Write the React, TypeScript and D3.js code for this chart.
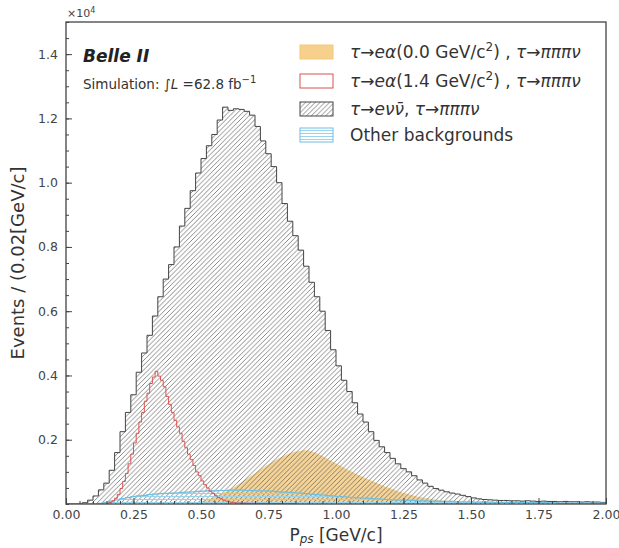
import React, { useEffect, useRef } from 'react';
import * as d3 from 'd3';

// histogram contents, in units of 1e4 events per bin
const binWidth = 0.02;
const fineBinWidth = 0.01;

// tau -> e nu nubar, tau -> 3pi nu  (bins 0.00 .. 2.00, width 0.02)
const bkgNuNu = [
  0, 0, 0, 0.004, 0.012, 0.025, 0.044, 0.065, 0.105, 0.16,
  0.225, 0.285, 0.34, 0.41, 0.47, 0.525, 0.585, 0.645, 0.70, 0.745,
  0.80, 0.865, 0.92, 0.975, 1.03, 1.075, 1.115, 1.15, 1.195, 1.235,
  1.225, 1.23, 1.228, 1.222, 1.21, 1.175, 1.13, 1.09, 1.05, 1.0,
  0.935, 0.88, 0.835, 0.79, 0.74, 0.69, 0.645, 0.6, 0.54, 0.48,
  0.43, 0.385, 0.35, 0.315, 0.28, 0.255, 0.225, 0.198, 0.178, 0.16,
  0.142, 0.125, 0.11, 0.1, 0.088, 0.075, 0.065, 0.055, 0.048, 0.043,
  0.038, 0.034, 0.031, 0.027, 0.023, 0.019, 0.016, 0.014, 0.013, 0.012,
  0.011, 0.011, 0.010, 0.010, 0.009, 0.010, 0.009, 0.008, 0.009, 0.008,
  0.008, 0.007, 0.008, 0.007, 0.007, 0.006, 0.007, 0.006, 0.006, 0.005,
];

// other backgrounds (bins 0.00 .. 2.00, width 0.02)
const otherBkg = [
  0, 0, 0, 0, 0, 0, 0.002, 0.005, 0.009, 0.013,
  0.017, 0.02, 0.023, 0.025, 0.027, 0.029, 0.031, 0.032, 0.033, 0.034,
  0.035, 0.036, 0.037, 0.038, 0.039, 0.04, 0.041, 0.041, 0.042, 0.042,
  0.043, 0.043, 0.043, 0.042, 0.042, 0.041, 0.041, 0.04, 0.039, 0.038,
  0.037, 0.036, 0.035, 0.034, 0.032, 0.031, 0.029, 0.028, 0.026, 0.025,
  0.023, 0.022, 0.021, 0.02, 0.019, 0.018, 0.017, 0.016, 0.015, 0.014,
  0.013, 0.012, 0.012, 0.011, 0.011, 0.01, 0.01, 0.009, 0.009, 0.008,
  0.008, 0.008, 0.007, 0.007, 0.007, 0.006, 0.006, 0.006, 0.006, 0.005,
  0.005, 0.005, 0.005, 0.005, 0.004, 0.004, 0.004, 0.004, 0.004, 0.004,
  0.004, 0.003, 0.003, 0.003, 0.003, 0.003, 0.003, 0.003, 0.003, 0.003,
];

// tau -> e alpha (0.0 GeV/c^2), bin centres 0.45 .. 1.53
const alpha00Centers = [
  0.45, 0.47, 0.49, 0.51, 0.53, 0.55, 0.57, 0.59, 0.61, 0.63,
  0.65, 0.67, 0.69, 0.71, 0.73, 0.75, 0.77, 0.79, 0.81, 0.83,
  0.85, 0.87, 0.89, 0.91, 0.93, 0.95, 0.97, 0.99, 1.01, 1.03,
  1.05, 1.07, 1.09, 1.11, 1.13, 1.15, 1.17, 1.19, 1.21, 1.23,
  1.25, 1.27, 1.29, 1.31, 1.33, 1.35, 1.37, 1.39, 1.41, 1.43,
  1.45, 1.47, 1.49, 1.51, 1.53,
];
const alpha00 = [
  0.002, 0.004, 0.007, 0.011, 0.016, 0.022, 0.03, 0.038, 0.047, 0.057,
  0.068, 0.079, 0.09, 0.102, 0.113, 0.124, 0.134, 0.143, 0.151, 0.158,
  0.163, 0.166, 0.167, 0.164, 0.157, 0.149, 0.14, 0.131, 0.122, 0.113,
  0.104, 0.096, 0.088, 0.08, 0.073, 0.066, 0.059, 0.052, 0.046, 0.04,
  0.035, 0.03, 0.026, 0.022, 0.019, 0.016, 0.013, 0.011, 0.009, 0.007,
  0.006, 0.005, 0.003, 0.002, 0.001,
];

// tau -> e alpha (1.4 GeV/c^2), bins of 0.01 starting at 0.15
const alpha14Start = 0.15;
const alpha14 = [
  0.002, 0.005, 0.01, 0.018, 0.03, 0.048, 0.07, 0.095, 0.125, 0.155,
  0.19, 0.22, 0.255, 0.285, 0.32, 0.345, 0.375, 0.395, 0.413, 0.398,
  0.385, 0.365, 0.335, 0.31, 0.285, 0.26, 0.24, 0.22, 0.195, 0.175,
  0.155, 0.138, 0.12, 0.1, 0.088, 0.072, 0.06, 0.05, 0.04, 0.033,
  0.026, 0.02, 0.016, 0.012, 0.009, 0.007, 0.005, 0.004, 0.003, 0.003,
  0.002, 0.003, 0.002, 0.002, 0.002, 0.002, 0.002, 0.001, 0.002, 0.001,
  0.001, 0.001, 0.001, 0.001, 0.001, 0.001, 0.001, 0.001, 0.001, 0.001,
];

const xTicks = [0, 0.25, 0.5, 0.75, 1.0, 1.25, 1.5, 1.75, 2.0];
const yTicks = [0.2, 0.4, 0.6, 0.8, 1.0, 1.2, 1.4];

const W = 619;
const H = 548;
const margin = { top: 22, right: 13, bottom: 44, left: 66 };
const font = '"DejaVu Sans", Verdana, sans-serif';

function stepPoints(start: number, width: number, vals: number[]): [number, number][] {
  const pts: [number, number][] = [[start, 0]];
  vals.forEach((v, i) => pts.push([start + i * width, v]));
  const end = start + vals.length * width;
  pts.push([end, vals[vals.length - 1]]);
  pts.push([end, 0]);
  return pts;
}

const App = () => {
  const ref = useRef<SVGSVGElement>(null);

  useEffect(() => {
    const svg = d3.select(ref.current);
    svg.selectAll('*').remove();

    const iw = W - margin.left - margin.right;
    const ih = H - margin.top - margin.bottom;

    const x = d3.scaleLinear().domain([0, 2]).range([margin.left, margin.left + iw]);
    const y = d3.scaleLinear().domain([0, 1.5]).range([margin.top + ih, margin.top]);

    const defs = svg.append('defs');
    const hatch = defs.append('pattern')
      .attr('id', 'hatch').attr('patternUnits', 'userSpaceOnUse')
      .attr('width', 4.8).attr('height', 4.8);
    hatch.append('path')
      .attr('d', 'M-1,1 L1,-1 M0,4.8 L4.8,0 M3.8,5.8 L5.8,3.8')
      .attr('stroke', '#555').attr('stroke-width', 0.7);
    const hatchBlue = defs.append('pattern')
      .attr('id', 'hatchBlue').attr('patternUnits', 'userSpaceOnUse')
      .attr('width', 6).attr('height', 3);
    hatchBlue.append('path')
      .attr('d', 'M0,1.5 L6,1.5')
      .attr('stroke', '#9ad3ec').attr('stroke-width', 1);
    defs.append('clipPath').attr('id', 'plotClip')
      .append('rect').attr('x', margin.left).attr('y', margin.top)
      .attr('width', iw).attr('height', ih);

    const plot = svg.append('g').attr('clip-path', 'url(#plotClip)');

    // tau -> e alpha (0.0): smooth filled area
    const orangeArea = d3.area<number>()
      .x((d, i) => x(alpha00Centers[i]))
      .y0(y(0))
      .y1(d => y(d))
      .curve(d3.curveMonotoneX);
    plot.append('path')
      .attr('d', orangeArea(alpha00))
      .attr('fill', '#f6d08c')
      .attr('opacity', 0.9);

    const stepArea = d3.area<[number, number]>()
      .x(d => x(d[0])).y0(y(0)).y1(d => y(d[1]))
      .curve(d3.curveStepAfter);
    const stepLine = d3.line<[number, number]>()
      .x(d => x(d[0])).y(d => y(d[1]))
      .curve(d3.curveStepAfter);

    // tau -> e nu nubar : hatched
    const nuPts = stepPoints(0, binWidth, bkgNuNu);
    plot.append('path').attr('d', stepArea(nuPts)).attr('fill', 'url(#hatch)');
    plot.append('path').attr('d', stepLine(nuPts))
      .attr('fill', 'none').attr('stroke', '#444').attr('stroke-width', 1);

    // other backgrounds
    const bluePts = stepPoints(0, binWidth, otherBkg);
    plot.append('path').attr('d', stepArea(bluePts)).attr('fill', 'url(#hatchBlue)');
    plot.append('path').attr('d', stepLine(bluePts))
      .attr('fill', 'none').attr('stroke', '#6cc0e2').attr('stroke-width', 1.2);

    // tau -> e alpha (1.4)
    const redPts = stepPoints(alpha14Start, fineBinWidth, alpha14);
    plot.append('path').attr('d', stepLine(redPts))
      .attr('fill', 'none').attr('stroke', '#d9534f').attr('stroke-width', 1);

    // axes, ticks pointing inward
    const axisColor = '#444';
    const bottom = svg.append('g').attr('transform', `translate(0,${margin.top + ih})`);
    bottom.call(d3.axisBottom(x).tickValues(xTicks).tickFormat(d3.format('.2f'))
      .tickSize(-6).tickPadding(6));
    bottom.append('g').call(d3.axisBottom(x).tickValues(d3.range(0, 2.001, 0.05))
      .tickFormat(() => '').tickSize(-3));
    const left = svg.append('g').attr('transform', `translate(${margin.left},0)`);
    left.call(d3.axisLeft(y).tickValues(yTicks).tickFormat(d3.format('.1f'))
      .tickSize(-6).tickPadding(8));
    left.append('g').call(d3.axisLeft(y).tickValues(d3.range(0, 1.5001, 0.05))
      .tickFormat(() => '').tickSize(-3));
    svg.selectAll('.domain').remove();
    svg.selectAll('.tick line').attr('stroke', axisColor);
    svg.selectAll('.tick text')
      .attr('fill', '#444').style('font-family', font).style('font-size', '12.5px');

    svg.append('rect')
      .attr('x', margin.left).attr('y', margin.top)
      .attr('width', iw).attr('height', ih)
      .attr('fill', 'none').attr('stroke', axisColor).attr('stroke-width', 1.3);

    // multiplier
    const mult = svg.append('text').attr('x', margin.left + 1).attr('y', 17)
      .style('font-family', font).style('font-size', '11px').attr('fill', '#444');
    mult.append('tspan').text('×10');
    mult.append('tspan').attr('dy', -4).style('font-size', '8px').text('4');

    // axis titles
    const xl = svg.append('text')
      .attr('x', x(1)).attr('y', 541).attr('text-anchor', 'middle')
      .style('font-family', font).style('font-size', '17px').attr('fill', '#333');
    xl.append('tspan').text('P');
    xl.append('tspan').attr('dy', 2).style('font-size', '12px').style('font-style', 'italic').text('ps');
    xl.append('tspan').attr('dy', -2).text(' [GeV/c]');

    svg.append('text')
      .attr('transform', `translate(24,${y(0.75)}) rotate(-90)`)
      .attr('text-anchor', 'middle')
      .style('font-family', font).style('font-size', '18px').attr('fill', '#333')
      .text('Events / (0.02[GeV/c]');

    // experiment label
    svg.append('text').attr('x', 83).attr('y', 62)
      .style('font-family', font).style('font-size', '17px')
      .style('font-weight', 'bold').style('font-style', 'italic').attr('fill', '#222')
      .text('Belle II');
    const sim = svg.append('text').attr('x', 83).attr('y', 89)
      .style('font-family', font).style('font-size', '13.5px').attr('fill', '#333');
    sim.append('tspan').text('Simulation: ∫');
    sim.append('tspan').style('font-style', 'italic').text('L');
    sim.append('tspan').text(' =62.8 fb');
    sim.append('tspan').attr('dy', -6).style('font-size', '10px').text('−1');

    // legend
    const legend = svg.append('g').style('font-family', font).style('font-size', '17px');
    const rows = [
      { y: 52, kind: 'orange' },
      { y: 81, kind: 'red' },
      { y: 109, kind: 'hatch' },
      { y: 135, kind: 'blue' },
    ];
    rows.forEach(r => {
      const rect = legend.append('rect')
        .attr('x', 300).attr('y', r.y - 7).attr('width', 33).attr('height', 14);
      if (r.kind === 'orange') rect.attr('fill', '#f6d08c').attr('stroke', '#f3c878');
      if (r.kind === 'red') rect.attr('fill', 'white').attr('stroke', '#d9534f');
      if (r.kind === 'hatch') rect.attr('fill', 'url(#hatch)').attr('stroke', '#444');
      if (r.kind === 'blue') rect.attr('fill', 'url(#hatchBlue)').attr('stroke', '#6cc0e2');
    });
    const alphaLabel = (mass: string, yy: number) => {
      const t = legend.append('text').attr('x', 350).attr('y', yy + 6).attr('fill', '#333');
      t.append('tspan').style('font-style', 'italic').text('τ→eα');
      t.append('tspan').text(`(${mass} GeV/c`);
      t.append('tspan').attr('dy', -7).style('font-size', '12px').text('2');
      t.append('tspan').attr('dy', 7).text(') , ');
      t.append('tspan').style('font-style', 'italic').text('τ→πππν');
    };
    alphaLabel('0.0', rows[0].y);
    alphaLabel('1.4', rows[1].y);
    const t3 = legend.append('text').attr('x', 350).attr('y', rows[2].y + 6).attr('fill', '#333');
    t3.append('tspan').style('font-style', 'italic').text('τ→eνν̄');
    t3.append('tspan').text(', ');
    t3.append('tspan').style('font-style', 'italic').text('τ→πππν');
    legend.append('text').attr('x', 350).attr('y', rows[3].y + 6).attr('fill', '#333')
      .text('Other backgrounds');
  }, []);

  return (
    <svg ref={ref} width={W} height={H}
      style={{ position: 'absolute', left: 0, top: 0, background: 'white' }} />
  );
};

export default App;
